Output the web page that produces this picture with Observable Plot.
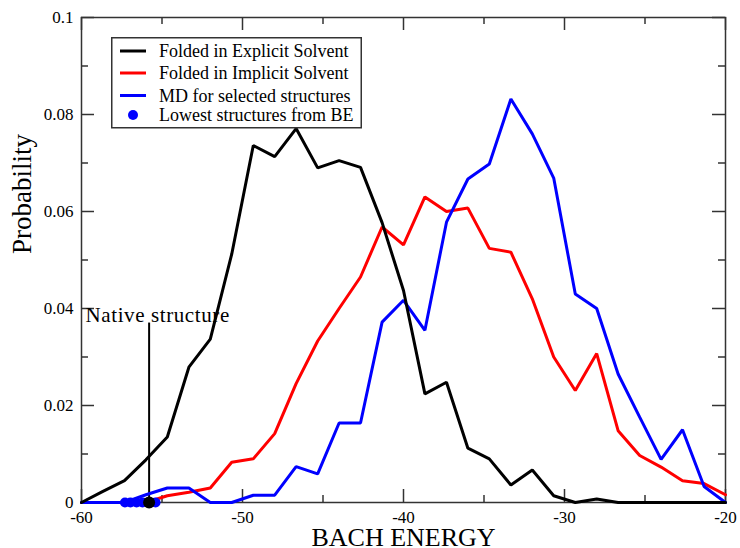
<!DOCTYPE html>
<html>
<head>
<meta charset="utf-8">
<script src="https://cdn.jsdelivr.net/npm/d3@7"></script>
<script src="https://cdn.jsdelivr.net/npm/@observablehq/plot@0.6"></script>
<style>
  html, body { margin: 0; padding: 0; background: white; }
  #chart { position: relative; width: 740px; height: 548px; }
  #legend { position: absolute; left: 111px; top: 37px; }
  #chart svg text { font-family: 'Liberation Serif', 'Times New Roman', serif; }
</style>
</head>
<body>
<div id="chart"></div>
<script>
// BACH energy bin centres
const energy = [-60, -58.67, -57.33, -56, -54.67, -53.33, -52, -50.67, -49.33, -48,
  -46.67, -45.33, -44, -42.67, -41.33, -40, -38.67, -37.33, -36, -34.67,
  -33.33, -32, -30.67, -29.33, -28, -26.67, -25.33, -24, -22.67, -21.33, -20];

// Probability per bin for each ensemble
const explicitSolvent = [0, 0.0023, 0.0045, 0.0088, 0.0135, 0.0279, 0.0337, 0.0512, 0.0736, 0.0713,
  0.0771, 0.0690, 0.0705, 0.0691, 0.0577, 0.0437, 0.0224, 0.0248, 0.0112, 0.0090,
  0.0036, 0.0067, 0.0014, 0, 0.0007, 0, 0, 0, 0, 0, 0];
const implicitSolvent = [0, 0, 0, 0, 0.0014, 0.0021, 0.0030, 0.0083, 0.0090, 0.0142,
  0.0245, 0.0333, 0.0400, 0.0465, 0.0568, 0.0531, 0.0630, 0.0600, 0.0607, 0.0524,
  0.0516, 0.0420, 0.0300, 0.0231, 0.0307, 0.0148, 0.0097, 0.0073, 0.0045, 0.0039, 0.0016];
const mdSelected = [0, 0, 0, 0.0016, 0.0030, 0.0030, 0, 0, 0.0015, 0.0015,
  0.0074, 0.0059, 0.0164, 0.0164, 0.0372, 0.0417, 0.0355, 0.0578, 0.0667, 0.0698,
  0.0832, 0.0760, 0.0669, 0.0430, 0.0400, 0.0265, 0.0176, 0.0089, 0.0150, 0.0033, 0];

// Lowest-energy structures picked by BACH, and the native structure
const lowestStructures = [-57.30, -56.96, -56.58, -56.21, -55.40];
const nativeEnergy = -55.8;
const nativeLabel = "Native structure";
const nativeLabelAt = {x: -59.75, y: 0.0372};
const nativeLineTop = 0.037;

// Axis ticks
const xMajor = [-60, -50, -40, -30, -20];
const xMinor = [-55, -45, -35, -25];
const yMajor = [0, 0.02, 0.04, 0.06, 0.08, 0.1];
const yMinor = [0.01, 0.03, 0.05, 0.07, 0.09];

const series = [
  {name: "Folded in Explicit Solvent", color: "black", values: explicitSolvent},
  {name: "Folded in Implicit Solvent", color: "red", values: implicitSolvent},
  {name: "MD for selected structures", color: "blue", values: mdSelected}
];
const rows = series.flatMap(s => energy.map((e, i) => ({name: s.name, energy: e, p: s.values[i]})));

const W = 740, H = 548;
const M = {top: 17, right: 15, bottom: 46, left: 81};
const innerW = W - M.left - M.right;
const innerH = H - M.top - M.bottom;
const axisColor = "#333";
const font = "'Liberation Serif', 'Times New Roman', serif";

const lineOf = s => Plot.line(rows.filter(r => r.name === s.name),
  {x: "energy", y: "p", stroke: s.color, strokeWidth: 3, strokeLinejoin: "miter"});

const plot = Plot.plot({
  width: W,
  height: H,
  marginTop: M.top,
  marginRight: M.right,
  marginBottom: M.bottom,
  marginLeft: M.left,
  style: {fontFamily: font, background: "white", color: "black"},
  x: {domain: [-60, -20]},
  y: {domain: [0, 0.1]},
  marks: [
    // inward tick marks on all four sides
    Plot.ruleX(xMajor, {x: d => d, insetTop: innerH - 13, stroke: axisColor, strokeWidth: 1.5}),
    Plot.ruleX(xMinor, {x: d => d, insetTop: innerH - 7, stroke: axisColor, strokeWidth: 1.5}),
    Plot.ruleX(xMajor, {x: d => d, insetBottom: innerH - 13, stroke: axisColor, strokeWidth: 1.5}),
    Plot.ruleX(xMinor, {x: d => d, insetBottom: innerH - 7, stroke: axisColor, strokeWidth: 1.5}),
    Plot.ruleY(yMajor, {y: d => d, insetRight: innerW - 13, stroke: axisColor, strokeWidth: 1.5}),
    Plot.ruleY(yMinor, {y: d => d, insetRight: innerW - 7, stroke: axisColor, strokeWidth: 1.5}),
    Plot.ruleY(yMajor, {y: d => d, insetLeft: innerW - 13, stroke: axisColor, strokeWidth: 1.5}),
    Plot.ruleY(yMinor, {y: d => d, insetLeft: innerW - 7, stroke: axisColor, strokeWidth: 1.5}),
    Plot.frame({stroke: axisColor, strokeWidth: 1.5}),
    Plot.axisX({ticks: xMajor, tickSize: 0, tickPadding: 8, tickFormat: d => `${d}`, fontSize: 17, label: null}),
    Plot.axisY({ticks: yMajor, tickSize: 0, tickPadding: 8, tickFormat: d => `${d}`, fontSize: 17, label: null}),
    Plot.text(["BACH ENERGY"], {frameAnchor: "bottom", lineAnchor: "bottom", dy: 43, fontSize: 26, fill: "black"}),
    Plot.text(["Probability"], {frameAnchor: "left", rotate: -90, dx: -59, dy: -6, fontSize: 27, fill: "black"}),
    // native structure marker
    Plot.ruleX([nativeEnergy], {x: d => d, y1: 0, y2: nativeLineTop, stroke: "black", strokeWidth: 2}),
    Plot.text([nativeLabel], {x: nativeLabelAt.x, y: nativeLabelAt.y, text: d => d, textAnchor: "start", lineAnchor: "bottom", fontSize: 21, fill: "black"}),
    lineOf(series[1]),
    lineOf(series[2]),
    lineOf(series[0]),
    Plot.dot(lowestStructures, {x: d => d, y: 0, r: 5, fill: "blue", stroke: "none"}),
    Plot.dot([nativeEnergy], {x: d => d, y: 0, r: 6, fill: "black", stroke: "none"})
  ]
});

// the native-structure caption is set a little wider
plot.querySelectorAll("text").forEach(t => {
  if (t.textContent === nativeLabel) t.style.letterSpacing = "0.6px";
});

const chart = document.getElementById("chart");
chart.appendChild(plot);

// legend box drawn over the upper-left of the plot
const legendItems = [
  ...series.map(s => ({label: s.name, color: s.color, kind: "line"})),
  {label: "Lowest structures from BE", color: "blue", kind: "dot"}
];
const rowY = [14, 36, 58.5, 78];
const lg = d3.create("svg")
  .attr("id", "legend")
  .attr("width", 251)
  .attr("height", 92)
  .style("font-family", font);
lg.append("rect").attr("x", 0.75).attr("y", 0.75).attr("width", 249.5).attr("height", 90)
  .attr("fill", "white").attr("stroke", axisColor).attr("stroke-width", 1.5);
legendItems.forEach((it, i) => {
  const y = rowY[i];
  if (it.kind === "line") {
    lg.append("line").attr("x1", 9).attr("x2", 35).attr("y1", y).attr("y2", y)
      .attr("stroke", it.color).attr("stroke-width", 3);
  } else {
    lg.append("circle").attr("cx", 22).attr("cy", y).attr("r", 5).attr("fill", it.color);
  }
  lg.append("text").attr("x", 48).attr("y", y + 6).attr("font-size", 18).attr("fill", "black").text(it.label);
});
chart.appendChild(lg.node());
</script>
</body>
</html>
